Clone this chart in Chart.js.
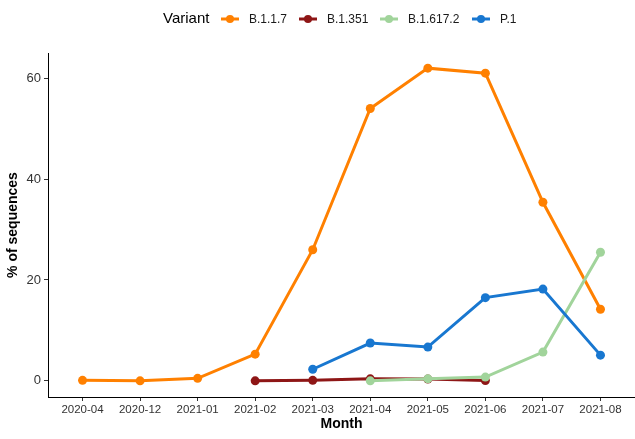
<!DOCTYPE html>
<html>
<head>
<meta charset="utf-8">
<script src="https://cdn.jsdelivr.net/npm/chart.js@4/dist/chart.umd.min.js"></script>
<style>
html,body{margin:0;padding:0;background:#fff;}
#wrap{width:635px;height:439px;}
</style>
</head>
<body>
<div id="wrap"><canvas id="c" width="635" height="439"></canvas></div>
<script>
const months = ['2020-04','2020-12','2021-01','2021-02','2021-03','2021-04','2021-05','2021-06','2021-07','2021-08'];
const variants = ['B.1.1.7','B.1.351','B.1.617.2','P.1'];
const b117   = [0.1, 0.0, 0.5, 5.3, 26.0, 54.0, 62.0, 61.0, 35.4, 14.2];
const b1351  = [null, null, null, 0.0, 0.1, 0.4, 0.35, 0.05, null, null];
const b16172 = [null, null, null, null, null, 0.0, 0.4, 0.75, 5.7, 25.5];
const p1     = [null, null, null, null, 2.3, 7.5, 6.7, 16.5, 18.2, 5.1];
const yTicks = [0, 20, 40, 60];
const colors = ['#FF8000', '#8E1616', '#A1D49B', '#1877D0'];
const series = [b117, b1351, b16172, p1];
const drawOrder = [3, 4, 2, 1];

const datasets = series.map((vals, k) => ({
  label: variants[k],
  data: vals.map((v, i) => ({x: i, y: v})),
  borderColor: colors[k],
  backgroundColor: colors[k],
  pointBackgroundColor: colors[k],
  pointBorderWidth: 0,
  pointRadius: 4.5,
  borderWidth: 3,
  tension: 0,
  spanGaps: false,
  clip: false,
  order: drawOrder[k]
}));

const legendPlugin = {
  id: 'ggLegend',
  afterDraw(chart) {
    const ctx = chart.ctx;
    ctx.save();
    const cy = 19;
    ctx.textBaseline = 'middle';
    ctx.fillStyle = '#000';
    ctx.font = '15px "Liberation Sans", Arial, sans-serif';
    ctx.fillText('Variant', 163, cy);
    const starts = [221, 299, 380, 472];
    ctx.font = '12px "Liberation Sans", Arial, sans-serif';
    variants.forEach((name, k) => {
      const x0 = starts[k];
      ctx.strokeStyle = colors[k];
      ctx.lineWidth = 3;
      ctx.beginPath();
      ctx.moveTo(x0, cy);
      ctx.lineTo(x0 + 18, cy);
      ctx.stroke();
      ctx.fillStyle = colors[k];
      ctx.beginPath();
      ctx.arc(x0 + 9, cy, 4, 0, Math.PI * 2);
      ctx.fill();
      ctx.fillStyle = '#1a1a1a';
      ctx.fillText(name, x0 + 28, cy + 0.5);
    });
    ctx.restore();
  }
};

new Chart(document.getElementById('c'), {
  type: 'line',
  data: { datasets },
  options: {
    responsive: false,
    animation: false,
    layout: { autoPadding: false, padding: { top: 53, right: 0, left: 0, bottom: 0 } },
    plugins: { legend: { display: false }, tooltip: { enabled: false } },
    scales: {
      x: {
        type: 'linear',
        min: -0.6,
        max: 9.6,
        afterBuildTicks: s => { s.ticks = months.map((m, i) => ({ value: i })); },
        afterFit: s => { s.height = 42; },
        ticks: {
          callback: v => months[v],
          autoSkip: false,
          maxRotation: 0,
          padding: 2,
          color: '#333',
          font: { family: '"Liberation Sans", Arial, sans-serif', size: 11.5 }
        },
        grid: { drawOnChartArea: false, drawTicks: true, tickLength: 4, color: '#333', tickWidth: 1 },
        border: { display: true, color: '#000', width: 1 },
        title: {
          display: true,
          text: 'Month',
          color: '#000',
          font: { family: '"Liberation Sans", Arial, sans-serif', size: 14, weight: 'bold' },
          padding: { top: 0, bottom: 6 }
        }
      },
      y: {
        type: 'linear',
        min: -3.2,
        max: 65,
        afterBuildTicks: s => { s.ticks = yTicks.map(v => ({ value: v })); },
        afterFit: s => { s.width = 48; },
        ticks: {
          padding: 3,
          color: '#333',
          font: { family: '"Liberation Sans", Arial, sans-serif', size: 13 }
        },
        grid: { drawOnChartArea: false, drawTicks: true, tickLength: 4, color: '#333', tickWidth: 1 },
        border: { display: true, color: '#000', width: 1 },
        title: {
          display: true,
          text: '% of sequences',
          color: '#000',
          font: { family: '"Liberation Sans", Arial, sans-serif', size: 14, weight: 'bold' },
          padding: { top: 5, bottom: 0 }
        }
      }
    }
  },
  plugins: [legendPlugin]
});
</script>
</body>
</html>
